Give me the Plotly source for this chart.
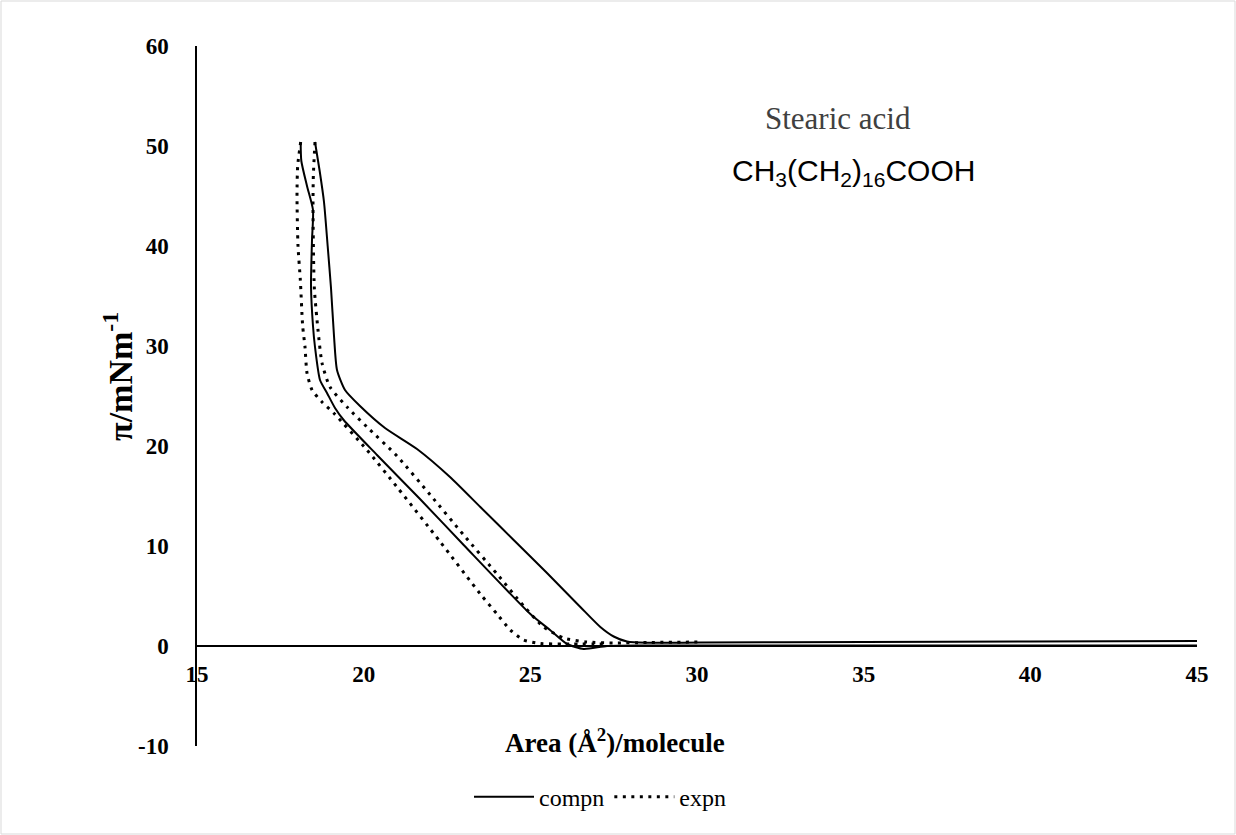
import plotly.graph_objects as go

# Compression cycle 1 (right solid)
comp1_area = [45, 40, 35, 30.1, 28.5, 27.9, 27.5, 27.1, 26.5, 25.5, 24.5, 23.5, 22.59,
              21.6, 20.64, 19.89, 19.44, 19.2, 19.11, 19.02, 18.92, 18.81, 18.68, 18.54]
comp1_pi = [0.5, 0.45, 0.4, 0.35, 0.32, 0.45, 0.95, 1.9, 3.9, 7.3, 10.6, 13.9, 16.9,
            19.7, 21.8, 24.0, 25.6, 27.6, 31, 35.8, 40, 44.4, 47.5, 50.4]

# Expansion cycle 1 (right dotted)
exp1_area = [18.54, 18.49, 18.48, 18.52, 18.63, 18.75, 18.99, 19.53, 20.1, 21.0, 22.0, 23.0,
             24.0, 24.8, 25.4, 26.0, 26.7, 27.5, 28.5, 30.1]
exp1_pi = [50.4, 47, 43.6, 35.8, 31.6, 28.3, 25.9, 23.8, 21.9, 19.0, 15.1, 11.1,
           7.2, 4.0, 1.9, 0.8, 0.4, 0.3, 0.35, 0.4]

# Compression cycle 2 (left solid)
comp2_area = [45, 35, 28.5, 27.3, 26.6, 26.1, 25.59, 25.0, 23.0, 21.69, 20.4, 19.4, 19.14,
              18.9, 18.69, 18.54, 18.48, 18.42, 18.45, 18.48, 18.3, 18.13, 18.11]
comp2_pi = [0.05, 0.05, 0.05, 0.0, -0.3, 0.2, 1.6, 3.2, 10.1, 14.7, 19.1, 22.6, 23.8,
            25.3, 26.6, 29.9, 32, 36, 40.6, 43.6, 46, 48.5, 50.4]

# Expansion cycle 2 (left dotted)
exp2_area = [18.11, 18.02, 18.0, 18.03, 18.1, 18.17, 18.24, 18.3, 18.45, 18.75, 19.1, 20.1,
             21.0, 22.3, 23.5, 24.0, 24.4, 24.8, 25.3, 26.0, 27.3]
exp2_pi = [50.4, 48, 45, 40, 36.6, 32, 29.9, 27.3, 25.6, 24.4, 23.3, 19.6,
           15.9, 10.4, 5.2, 3.2, 1.6, 0.6, 0.25, 0.2, 0.2]

x_ticks = [15, 20, 25, 30, 35, 40, 45]
y_ticks = [-10, 0, 10, 20, 30, 40, 50, 60]

SERIF = "Liberation Serif"
solid = dict(color="black", width=2, shape="spline", smoothing=0.6)
dotted = dict(color="black", width=3, dash="3px,5.5px", shape="spline", smoothing=0.6)

fig = go.Figure()
fig.add_trace(go.Scatter(x=comp1_area, y=comp1_pi, mode="lines", name="compn",
                         line=solid, legendgroup="c", showlegend=True))
fig.add_trace(go.Scatter(x=comp2_area, y=comp2_pi, mode="lines", name="compn",
                         line=solid, legendgroup="c", showlegend=False))
fig.add_trace(go.Scatter(x=exp1_area, y=exp1_pi, mode="lines", name="expn",
                         line=dotted, legendgroup="e", showlegend=True))
fig.add_trace(go.Scatter(x=exp2_area, y=exp2_pi, mode="lines", name="expn",
                         line=dotted, legendgroup="e", showlegend=False))

fig.update_layout(
    width=1236, height=835,
    margin=dict(l=197, r=39, t=46, b=89),
    paper_bgcolor="white", plot_bgcolor="white",
    font=dict(family=SERIF, color="black"),
    xaxis=dict(range=[15, 45], tickvals=x_ticks, ticktext=[str(v) for v in x_ticks],
               showgrid=False, zeroline=False, showline=True, linecolor="black", linewidth=1.5,
               anchor="free", position=10 / 70, ticks="", ticklabelstandoff=8,
               tickfont=dict(family=SERIF, size=23, color="black", weight="bold")),
    yaxis=dict(range=[-10, 60], tickvals=y_ticks, ticktext=[str(v) for v in y_ticks],
               showgrid=False, zeroline=False, showline=True, linecolor="black", linewidth=1.5,
               ticks="", ticklabelstandoff=22,
               tickfont=dict(family=SERIF, size=23, color="black", weight="bold")),
    legend=dict(orientation="h", x=0.403, xanchor="center", y=-0.073, yanchor="middle",
                font=dict(family=SERIF, size=24, color="black"), itemwidth=60,
                bgcolor="rgba(0,0,0,0)"),
    showlegend=True,
)

fig.add_annotation(text="π/mNm<sup>-1</sup>", xref="paper", yref="paper", textangle=-90,
                   x=(118 - 197) / 1000, y=(746 - 377) / 700, xanchor="center", yanchor="middle",
                   showarrow=False, font=dict(family=SERIF, size=34, color="black", weight="bold"))
fig.add_annotation(text="Area (Å<sup>2</sup>)/molecule", xref="paper", yref="paper",
                   x=(615 - 197) / 1000, y=(746 - 741) / 700, xanchor="center", yanchor="middle",
                   showarrow=False, font=dict(family=SERIF, size=27, color="black", weight="bold"))
fig.add_annotation(text="Stearic acid", xref="paper", yref="paper",
                   x=(838 - 197) / 1000, y=(746 - 118) / 700, xanchor="center", yanchor="middle",
                   showarrow=False, font=dict(family=SERIF, size=31, color="#404040"))
fig.add_annotation(text="CH<sub>3</sub>(CH<sub>2</sub>)<sub>16</sub>COOH", xref="paper", yref="paper",
                   x=(853 - 197) / 1000, y=(746 - 172) / 700, xanchor="center", yanchor="middle",
                   showarrow=False, font=dict(family="Liberation Sans", size=30, color="black"))

# light border around the chart area
fig.add_shape(type="rect", xref="paper", yref="paper",
              x0=(1 - 197) / 1000, x1=(1235 - 197) / 1000,
              y0=(746 - 834) / 700, y1=(746 - 1) / 700,
              line=dict(color="#d9d9d9", width=1), fillcolor="rgba(0,0,0,0)", layer="below")

fig.write_html("out.html")
